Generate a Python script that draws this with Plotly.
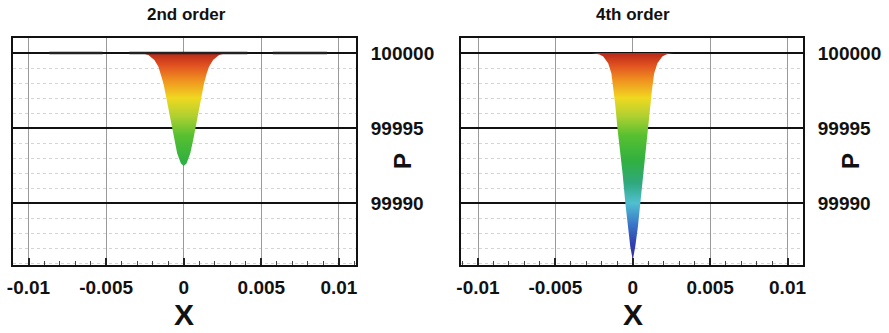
import plotly.graph_objects as go

# ---------------- data ----------------
# half-width of the pressure trough (x, m) at pressure levels P (Pa); profile is symmetric about x = 0
p2_levels = [100000.00, 99999.97, 99999.87, 99999.53, 99999.09, 99998.64, 99997.98,
             99997.31, 99996.42, 99995.09, 99994.20, 99993.31, 99992.64, 99992.47]
p2_halfw = [0.00300, 0.00262, 0.00228, 0.00189, 0.00163, 0.00148, 0.00131,
            0.00118, 0.00101, 0.00077, 0.00061, 0.00042, 0.00018, 0.0]

p4_levels = [100000.00, 99999.97, 99999.90, 99999.76, 99999.31, 99998.64, 99997.53,
             99996.42, 99994.98, 99993.53, 99991.98, 99989.98, 99988.42, 99987.09, 99986.20]
p4_halfw = [0.00265, 0.00242, 0.00215, 0.00191, 0.00159, 0.00138, 0.00124,
            0.00112, 0.00099, 0.00081, 0.00066, 0.00048, 0.00033, 0.00016, 0.0]

# flat parts of the 2nd-order solution line lying on P = 100000
flat2_x = [-0.00865, -0.00523, None, -0.00350, 0.00410, None, 0.00574, 0.00923]
flat2_p = [100000, 100000, None, 100000, 100000, None, 100000, 100000]

titles = ["2nd order", "4th order"]
x_ticks = [-0.01, -0.005, 0, 0.005, 0.01]
x_tick_text = ["-0.01", "-0.005", "0", "0.005", "0.01"]
y_ticks = [99990, 99995, 100000]
y_tick_text = ["99990", "99995", "100000"]

# colour map (P value -> colour)
cmap_p = [99986.0, 99987.3, 99988.6, 99990.0, 99991.3, 99992.8, 99994.5,
          99995.8, 99997.0, 99998.2, 99999.2, 100000.0]
cmap_c = ["#3a2a9a", "#3040b0", "#3a78c8", "#50c0d0", "#30a880", "#30b040", "#58c030",
          "#b0d030", "#f0d820", "#f09020", "#e05020", "#b82818"]

# ---------------- figure ----------------
FONT = "Liberation Sans"
cs = [[(p - cmap_p[0]) / (cmap_p[-1] - cmap_p[0]), c] for p, c in zip(cmap_p, cmap_c)]


def trough(levels, halfw):
    xs = [-w for w in halfw] + [w for w in reversed(halfw)]
    ps = list(levels) + list(reversed(levels))
    return xs, ps


fig = go.Figure()

for i, (lv, hw) in enumerate([(p2_levels, p2_halfw), (p4_levels, p4_halfw)]):
    xs, ps = trough(lv, hw)
    xa = "x" if i == 0 else "x2"
    ya = "y" if i == 0 else "y2"
    fig.add_trace(go.Scatter(
        x=xs, y=ps, xaxis=xa, yaxis=ya, mode="lines", line=dict(width=0),
        fill="toself",
        fillgradient=dict(type="vertical", colorscale=cs, start=cmap_p[0], stop=cmap_p[-1]),
        hoverinfo="skip", showlegend=False))

fig.add_trace(go.Scatter(x=flat2_x, y=flat2_p, xaxis="x", yaxis="y", mode="lines",
                         line=dict(color="#222222", width=2.5), showlegend=False,
                         hoverinfo="skip"))

xdoms = [[13 / 889, 356 / 889], [461 / 889, 803 / 889]]
ydom = [1 - 265 / 333, 1 - 38 / 333]

tickfont = dict(family=FONT, size=19, color="#111111", weight="bold")

for i in range(2):
    xkey = "xaxis" if i == 0 else "xaxis2"
    ykey = "yaxis" if i == 0 else "yaxis2"
    fig.layout[xkey] = dict(
        domain=xdoms[i], range=[-0.0110, 0.0111] if i == 0 else [-0.0111, 0.0110],
        anchor="y" if i == 0 else "y2", automargin=False,
        tickvals=x_ticks, ticktext=x_tick_text, tickfont=tickfont,
        ticks="inside", ticklen=7, tickwidth=1.5, tickcolor="#222222",
        showgrid=True, gridcolor="#9a9a9a", gridwidth=1,
        showline=True, mirror=True, linecolor="#111111", linewidth=2,
        zeroline=False, ticklabelstandoff=4,
        minor=dict(dtick=0.001, tick0=0, ticks="inside", ticklen=4, tickwidth=1,
                   tickcolor="#444444", showgrid=False),
    )
    fig.layout[ykey] = dict(
        domain=ydom, range=[99985.87, 100001.0],
        anchor="x" if i == 0 else "x2", side="right", automargin=False,
        tickvals=y_ticks, ticktext=y_tick_text, tickfont=tickfont,
        ticks="", showgrid=True, gridcolor="#111111", gridwidth=1.5,
        showline=True, mirror=True, linecolor="#111111", linewidth=2,
        zeroline=False, ticklabelstandoff=9,
        minor=dict(dtick=1, tick0=100000, showgrid=True, gridcolor="#d4d4d4",
                   griddash="dot", gridwidth=1, ticks=""),
    )

ann = []
for cx, t in zip([186 / 889, 633 / 889], titles):
    ann.append(dict(text=t, x=cx, y=1 - 14 / 333, xref="paper", yref="paper",
                    showarrow=False, xanchor="center", yanchor="middle",
                    font=dict(family=FONT, size=17, color="#111111", weight="bold")))
for cx in [184 / 889, 633 / 889]:
    ann.append(dict(text="X", x=cx, y=1 - 314 / 333, xref="paper", yref="paper",
                    showarrow=False, xanchor="center", yanchor="middle",
                    font=dict(family=FONT, size=30, color="#111111", weight="bold")))
for cx in [402 / 889, 850 / 889]:
    ann.append(dict(text="P", x=cx, y=1 - 161 / 333, xref="paper", yref="paper",
                    showarrow=False, xanchor="center", yanchor="middle", textangle=-90,
                    font=dict(family=FONT, size=24, color="#111111", weight="bold")))

fig.update_layout(
    width=889, height=333, margin=dict(l=0, r=0, t=0, b=0),
    paper_bgcolor="white", plot_bgcolor="white",
    annotations=ann, showlegend=False,
)

fig.write_html("out.html")
